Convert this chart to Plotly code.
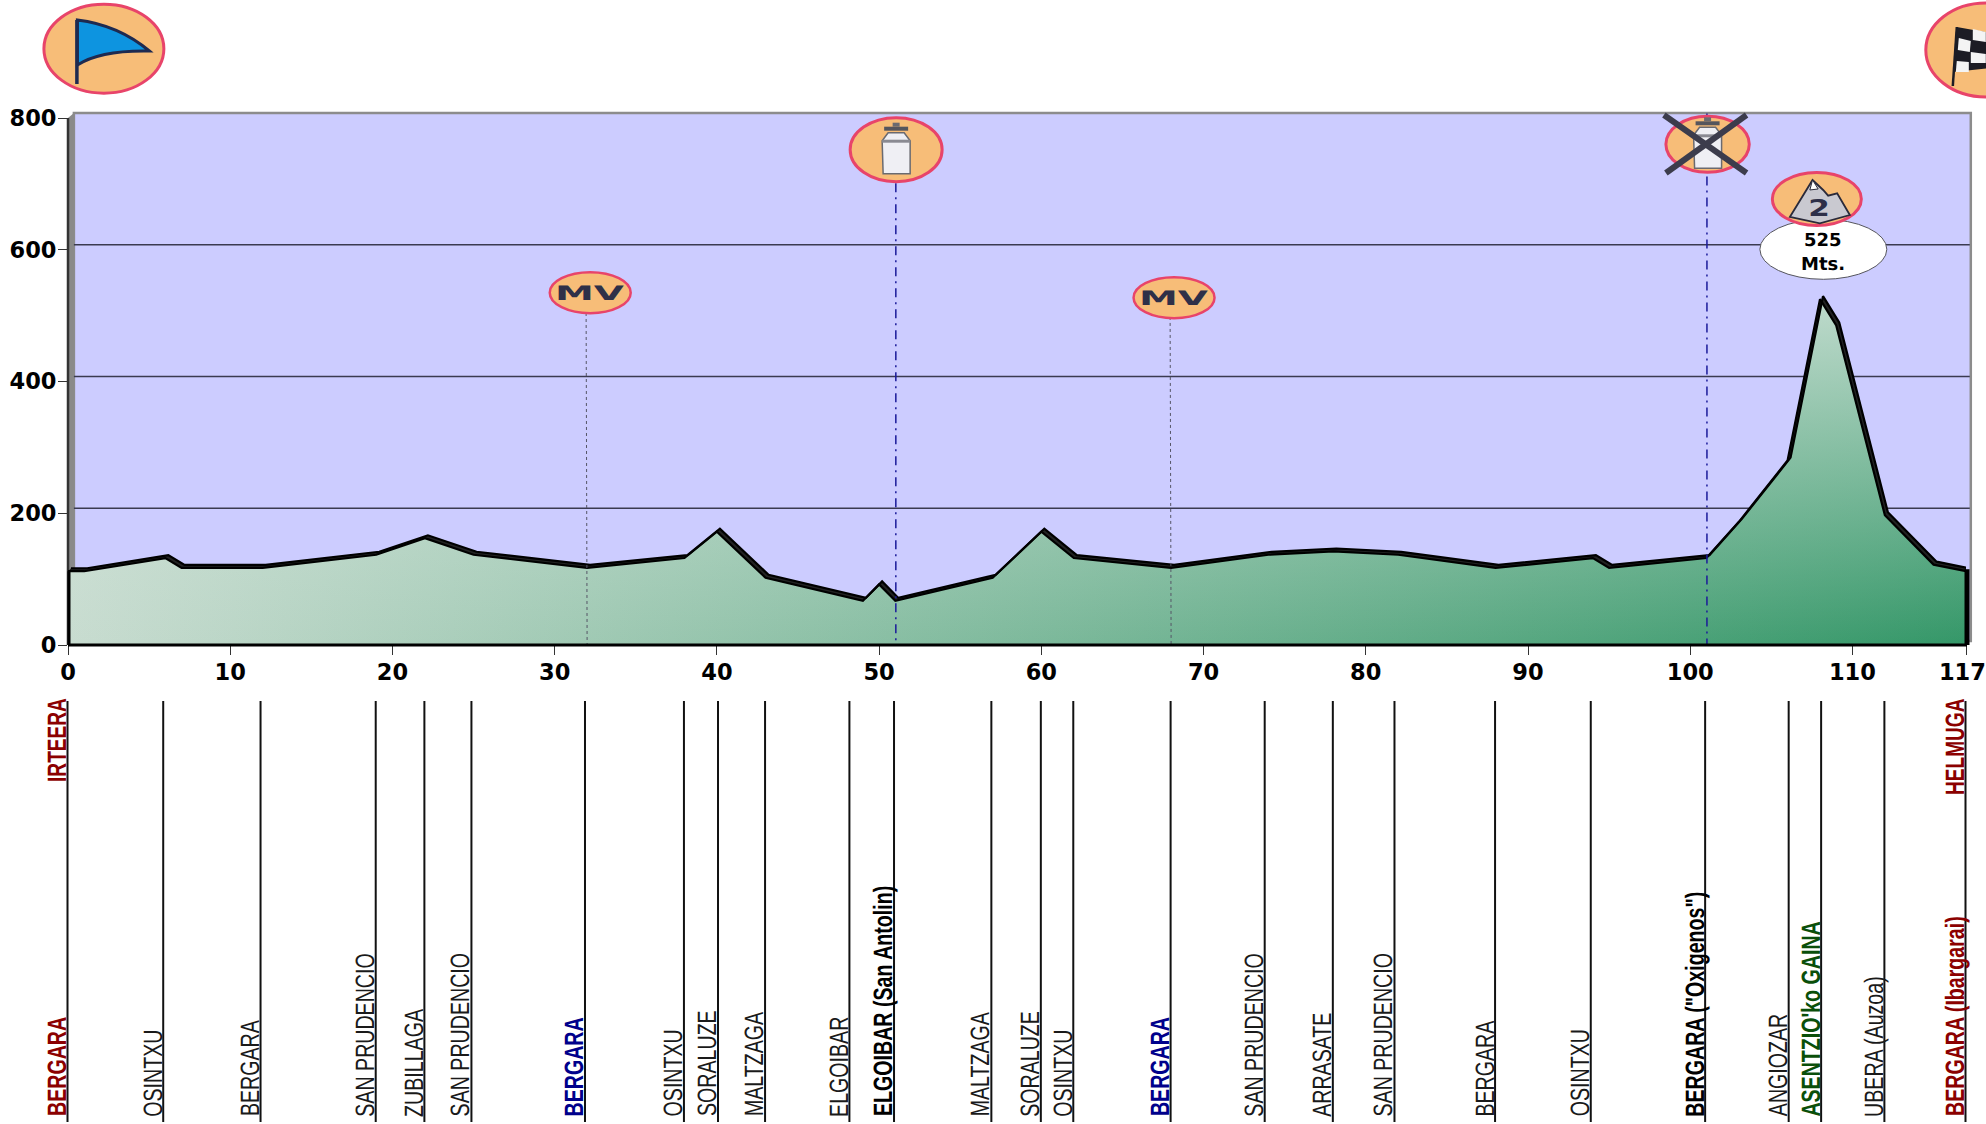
import plotly.graph_objects as go

# ---- data -------------------------------------------------------------
profile_km = [0, 1, 6, 7, 12, 19, 22, 25, 32, 38, 40, 43, 49, 50, 51, 57, 60, 62, 68, 74, 78, 82, 88, 94, 95, 101, 103, 106, 108, 109, 112, 115, 117]
profile_elev = [112, 112, 132, 117, 117, 137, 162, 137, 117, 132, 172, 102, 67, 92, 67, 102, 172, 132, 117, 137, 142, 137, 117, 132, 117, 132, 187, 280, 525, 485, 197, 122, 112]
x_ticks = [0, 10, 20, 30, 40, 50, 60, 70, 80, 90, 100, 110, 117]
y_ticks = [0, 200, 400, 600, 800]
grid_values = [200, 400, 600]

label_km = [0, 5.9, 11.9, 19, 22, 24.9, 31.9, 38, 40.1, 43, 48.2, 50.95, 56.95, 60, 62, 68, 73.8, 78, 81.8, 88, 93.9, 100.95, 106.1, 108.1, 112, 117]
label_names = ["BERGARA", "OSINTXU", "BERGARA", "SAN PRUDENCIO", "ZUBILLAGA", "SAN PRUDENCIO", "BERGARA", "OSINTXU",
               "SORALUZE", "MALTZAGA", "ELGOIBAR", "ELGOIBAR (San Antolin)", "MALTZAGA", "SORALUZE", "OSINTXU", "BERGARA",
               "SAN PRUDENCIO", "ARRASATE", "SAN PRUDENCIO", "BERGARA", "OSINTXU", 'BERGARA ("Oxigenos")', "ANGIOZAR",
               "ASENTZIO'ko GAINA", "UBERA (Auzoa)", "BERGARA (Ibargarai)"]
label_kind = ["red", "", "", "", "", "", "blue", "", "", "", "", "bold", "", "", "", "blue", "", "", "", "", "", "bold", "", "green", "", "red"]
top_labels = [(0, "IRTEERA"), (117, "HELMUGA")]
pins_mv = [(32, 504), (68, 498)]
pins_bottle = [(51, 701), (101, 807)]
summit_height = "525"

# ---- layout geometry --------------------------------------------------
W, H = 1986, 1124
L, R, T, B = 67.6, 1966.2, 118, 645
PW, PH = R - L, B - T
def fx(px): return (px - L) / PW
def fy(py): return (B - py) / PH
def kx(km): return L + km * PW / 117
def vy(v): return B - v * PH / 800

shapes = []
def poly(pts, fill=None, color="rgba(0,0,0,0)", width=0, layer="above", close=True):
    path = "M " + " L ".join(f"{fx(x):.5f},{fy(y):.5f}" for x, y in pts) + (" Z" if close else "")
    shapes.append(dict(type="path", xref="paper", yref="paper", path=path, fillcolor=fill or "rgba(0,0,0,0)",
                       line=dict(color=color, width=width), layer=layer))
def seg(x0, y0, x1, y1, color, width, dash="solid", layer="above"):
    shapes.append(dict(type="line", xref="paper", yref="paper", x0=fx(x0), y0=fy(y0), x1=fx(x1), y1=fy(y1),
                       line=dict(color=color, width=width, dash=dash), layer=layer))
def ell(cx, cy, rx, ry, fill, color, width, layer="above"):
    shapes.append(dict(type="circle", xref="paper", yref="paper", x0=fx(cx - rx), x1=fx(cx + rx), y0=fy(cy - ry), y1=fy(cy + ry),
                       fillcolor=fill, line=dict(color=color, width=width), layer=layer))

ORANGE, PINK, INK = "#f7bd78", "#e8446a", "#2e3048"

# back wall, side wall, grid
shapes.append(dict(type="rect", xref="paper", yref="paper", x0=fx(73.5), x1=fx(1971), y0=fy(641), y1=fy(113),
                   fillcolor="#ccccff", line=dict(color="#8c8c8c", width=2.5), layer="below"))
poly([(L, T), (73.5, 113), (73.5, 641), (L, B)], fill="#8a8a8a", layer="below")
seg(L, T, L, B, "#333333", 2.5, layer="below")
for v in grid_values:
    seg(73.5, vy(v) - 5, 1970, vy(v) - 5, "#3a3a50", 1.4, layer="below")

# pin lines
for km, top in pins_mv:
    seg(kx(km) - 1, vy(top), kx(km), B, "#555566", 1, "dot")
for km, top in pins_bottle:
    seg(kx(km) + 0.5, vy(top), kx(km) + 0.5, B + 1, "#1a1a9a", 1.5, "9px,5px,2px,5px")

# floor and end walls
seg(L, B, R + 1, B, "#000000", 3)
seg(L + 1, B, L + 1, vy(112), "#000000", 3)
seg(R + 1, B, R + 1, vy(112) - 2, "#000000", 5)

# station lines
for km in label_km:
    seg(kx(km) - 0.5, 701, kx(km) - 0.5, 1122, "#111111", 2)

# start icon
ell(103.5, 48.7, 60, 44.5, ORANGE, PINK, 3)
shapes.append(dict(type="path", xref="paper", yref="paper", layer="above", fillcolor="#0d94e0",
                   line=dict(color="#1e2a50", width=3),
                   path=f"M {fx(77):.5f},{fy(20):.5f} Q {fx(118):.5f},{fy(25):.5f} {fx(149):.5f},{fy(51):.5f} "
                        f"Q {fx(100):.5f},{fy(50):.5f} {fx(77):.5f},{fy(65):.5f} Z"))
seg(76.5, 20, 76.5, 84, "#1e2a50", 3.5)

# finish icon
ell(1986, 50, 60, 47, ORANGE, PINK, 3)
poly([(1957, 27), (1990, 33), (1990, 68), (1954, 72)], fill="#1c1c24")
seg(1957, 27, 1953, 86, "#1c1c24", 2.5)
for cell in [[(1959, 38), (1971, 41), (1970, 52), (1958, 50)], [(1973, 29), (1986, 32), (1986, 42), (1973, 40)],
             [(1971, 52), (1986, 54), (1986, 63), (1971, 63)], [(1957, 61), (1969, 62), (1969, 72), (1956, 72)]]:
    poly(cell, fill="#f4f4f4")

# MV icons
mv_centres = [(590, 292.7), (1174, 297.7)]
for cx, cy in mv_centres:
    ell(cx, cy, 40.5, 20.5, ORANGE, PINK, 2.5)

# bottles
def bottle(cx, cy, rx, ry):
    ell(cx, cy, rx, ry, ORANGE, PINK, 3)
    poly([(cx - 8, cy - 17), (cx - 14, cy - 9), (cx - 13, cy + 24), (cx + 14, cy + 24), (cx + 14, cy - 9), (cx + 8, cy - 17)],
         fill="#efeff4", color="#6a6a70", width=1.5)
    poly([(cx - 14, cy - 10), (cx + 14, cy - 10), (cx + 14, cy - 7), (cx - 14, cy - 7)], fill="#8a8a92")
    poly([(cx - 12, cy - 23), (cx + 12, cy - 23), (cx + 12, cy - 19), (cx - 12, cy - 19)], fill="#55555c")
    poly([(cx - 3.5, cy - 27), (cx + 3.5, cy - 27), (cx + 3.5, cy - 23), (cx - 3.5, cy - 23)], fill="#6a6a70")
bottle(896, 149.7, 46, 32)
bottle(1707.7, 144.3, 41.7, 28)
seg(1664, 115, 1746.7, 173, "#3c3c4c", 6)
seg(1666, 173, 1746.7, 115, "#3c3c4c", 6)

# summit icon
ell(1823.5, 249.3, 63.5, 30, "#ffffff", "#55555c", 1)
ell(1817, 199, 44.5, 26.5, ORANGE, PINK, 3)
poly([(1790, 217), (1812.7, 180), (1823.3, 190), (1828.3, 195.7), (1837.3, 193.3), (1850, 215), (1820, 223.3)],
     fill="#c9c9d0", color="#2a2a3a", width=1.8)
poly([(1812.7, 180), (1818.3, 189), (1810, 190)], fill="#ffffff", color="#2a2a3a", width=1)

# ---- annotations ------------------------------------------------------
ann = []
def text_at(px, py, txt, size, color, family="DejaVu Sans", bold=True):
    ann.append(dict(xref="paper", yref="paper", x=fx(px), y=fy(py), text=f"<b>{txt}</b>" if bold else txt, showarrow=False,
                    font=dict(size=size, color=color, family=family), xanchor="center", yanchor="middle"))
for cx, cy in mv_centres:
    text_at(cx, cy, "MV", 20, INK)
text_at(1819, 208, "2", 23, INK)
text_at(1823.5, 240, summit_height, 18, "#000000")
text_at(1823.5, 263, "Mts.", 18, "#000000")

COL = {"": "#1a1a1a", "bold": "#000000", "red": "#8b0000", "blue": "#00008b", "green": "#0a4f0a"}
def vlabel(km, txt, kind, py, anchor):
    bold = kind != ""
    ann.append(dict(xref="paper", yref="paper", x=fx(kx(km) - 0.5), y=fy(py), text=f"<b>{txt}</b>" if bold else txt, showarrow=False,
                    textangle=-90, xanchor="right", yanchor=anchor, xshift=4, borderpad=0, borderwidth=0,
                    font=dict(size=26.5, color=COL[kind], family="Liberation Sans")))
for km, name, kind in zip(label_km, label_names, label_kind):
    vlabel(km, name, kind, 1116.5, "bottom")
for km, name in top_labels:
    vlabel(km, name, "red", 699, "top")

# ---- traces -----------------------------------------------------------
OFF_KM, OFF_M = 0.185, 4.5
fig = go.Figure()
fig.add_trace(go.Scatter(x=profile_km, y=profile_elev, mode="lines", line=dict(width=0), fill="tozeroy",
                         fillgradient=dict(type="horizontal", start=0, stop=117,
                                           colorscale=[[0, "#c8dcd0"], [1, "#349768"]]),
                         hoverinfo="skip", showlegend=False))
fig.add_trace(go.Scatter(x=profile_km, y=profile_elev, mode="lines", line=dict(width=0), fill="tozeroy",
                         fillgradient=dict(type="vertical", start=0, stop=525,
                                           colorscale=[[0, "rgba(213,229,220,0)"], [1, "rgba(213,229,220,0.85)"]]),
                         hoverinfo="skip", showlegend=False))
fig.add_trace(go.Scatter(x=[k + OFF_KM for k in profile_km], y=[v + OFF_M for v in profile_elev], mode="lines",
                         line=dict(color="#000000", width=2.2), cliponaxis=False, hoverinfo="skip", showlegend=False))
fig.add_trace(go.Scatter(x=profile_km, y=profile_elev, mode="lines", line=dict(color="#000000", width=2.2),
                         fill="tonexty", fillcolor="#222222", cliponaxis=False, hoverinfo="skip", showlegend=False))

tickfont = dict(size=22.5, color="#000000", family="DejaVu Sans")
x_text = [f"<b>{t}</b>" for t in x_ticks]
x_text[-1] = x_text[-1] + "\u00a0"   # the last label sits a little left of its tick, inside the page
fig.update_layout(
    width=W, height=H, autosize=False, paper_bgcolor="#ffffff", plot_bgcolor="#ffffff", showlegend=False,
    margin=dict(l=L, r=W - R, t=T, b=H - B, pad=0),
    xaxis=dict(range=[0, 117], automargin=False, tickmode="array", tickvals=x_ticks, ticktext=x_text, ticks="outside", ticklen=9,
               tickwidth=1, tickcolor="#333333", showgrid=False, zeroline=False, showline=False, tickangle=0, tickfont=tickfont,
               ticklabelstandoff=-2, ticklabeloverflow="allow"),
    yaxis=dict(range=[0, 800], automargin=False, tickmode="array", tickvals=y_ticks, ticktext=[f"<b>{t}</b>" for t in y_ticks], ticks="outside", ticklen=9,
               tickwidth=1, tickcolor="#333333", showgrid=False, zeroline=False, showline=False, tickfont=tickfont, ticklabelstandoff=-3,
               ticklabeloverflow="allow"),
    shapes=shapes, annotations=ann,
)

# The reference text is a condensed face; none is installed, so the real text is squeezed along its own axis.
post = """
document.body.style.margin='0';
(function(){
  function squeeze(){
    document.querySelectorAll('text.annotation-text').forEach(function(t){
      var s=t.textContent, k, ox;
      t.style.textRendering='geometricPrecision';
      var b=t.getBBox();
      if(s==='525'||s==='Mts.') return;
      if(s==='MV'){k=1.95; ox=b.x+b.width/2;}
      else if(s==='2'){k=1.35; ox=b.x+b.width/2;}
      else if(s==='IRTEERA'||s==='HELMUGA'){k=0.72; ox=b.x+b.width;}
      else {k=0.74; ox=b.x;}
      t.setAttribute('transform','translate('+ox+',0) scale('+k+',1) translate('+(-ox)+',0)');
    });
  }
  squeeze(); setTimeout(squeeze,100); setTimeout(squeeze,500); setTimeout(squeeze,1500);
})();
"""
fig.write_html("out.html", config=dict(displayModeBar=False), post_script=post)
